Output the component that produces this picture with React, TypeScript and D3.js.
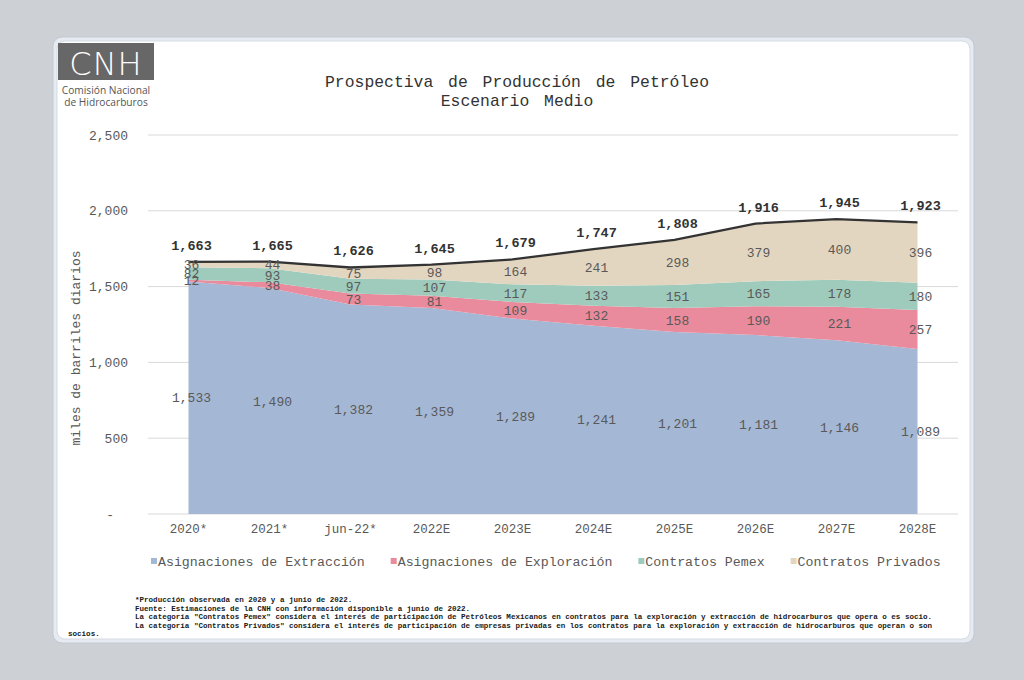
import React from "react";
import * as d3 from "d3";

const categories = ["2020*", "2021*", "jun-22*", "2022E", "2023E", "2024E", "2025E", "2026E", "2027E", "2028E"];
const asignacionesExtraccion = [1533, 1490, 1382, 1359, 1289, 1241, 1201, 1181, 1146, 1089];
const asignacionesExploracion = [12, 38, 73, 81, 109, 132, 158, 190, 221, 257];
const contratosPemex = [82, 93, 97, 107, 117, 133, 151, 165, 178, 180];
const contratosPrivados = [36, 44, 75, 98, 164, 241, 298, 379, 400, 396];
const totals = [1663, 1665, 1626, 1645, 1679, 1747, 1808, 1916, 1945, 1923];
const yTicks = [0, 500, 1000, 1500, 2000, 2500];

const seriesNames = ["Asignaciones de Extracción", "Asignaciones de Exploración", "Contratos Pemex", "Contratos Privados"];
const seriesColors = ["#a4b7d5", "#e98b9c", "#9fcbbd", "#e3d6c1"];

const footnotes = [
  "*Producción observada en 2020 y a junio de 2022.",
  "Fuente: Estimaciones de la CNH con información disponible a junio de 2022.",
  "La categoría \"Contratos Pemex\" considera el interés de participación de Petróleos Mexicanos en contratos para la exploración y extracción de hidrocarburos que opera o es socio.",
  "La categoría \"Contratos Privados\" considera el interés de participación de empresas privadas en los contratos para la exploración y extracción de hidrocarburos que operan o son",
];
const footnoteTail = "socios.";

const MONO = "'Liberation Mono', 'Courier New', monospace";

export default function App() {
  const rows = categories.map((c, i) => ({
    cat: c,
    s0: asignacionesExtraccion[i],
    s1: asignacionesExploracion[i],
    s2: contratosPemex[i],
    s3: contratosPrivados[i],
  }));
  const keys = ["s0", "s1", "s2", "s3"];
  const stacked = d3.stack<any>().keys(keys)(rows);

  const x = d3.scalePoint<string>().domain(categories).range([148, 958]).padding(0.5);
  const y = d3.scaleLinear().domain([0, 2500]).range([514, 135]);

  const area = d3
    .area<any>()
    .x((d) => x(d.data.cat) as number)
    .y0((d) => y(d[0]))
    .y1((d) => y(d[1]));

  const line = d3
    .line<number>()
    .x((_, i) => x(categories[i]) as number)
    .y((d) => y(d));

  const fmt = d3.format(",");

  // legend layout
  const charW = 7.95;
  let lx = 151;
  const legendItems = seriesNames.map((n, i) => {
    const item = { x: lx, name: n, color: seriesColors[i] };
    lx += 7 + n.length * charW + 26;
    return item;
  });

  return (
    <svg
      width={1024}
      height={680}
      style={{ position: "absolute", left: 0, top: 0, display: "block" }}
    >
      <rect x={0} y={0} width={1024} height={680} fill="#cdd0d4" />
      {/* frame */}
      <rect x={53} y={37} width={921} height={606} rx={9} fill="#e6ebf2" stroke="#c3cad4" strokeWidth={1} />
      <rect x={57} y={41} width={913} height={598} rx={8} fill="#ffffff" stroke="#d5dbe3" strokeWidth={1} />

      {/* logo */}
      <rect x={58} y={43} width={96} height={37} fill="#676767" />
      <text x={106} y={75} textAnchor="middle" fill="#ffffff" fontFamily="'DejaVu Sans', 'Open Sans', sans-serif" fontWeight={300} fontSize={32} letterSpacing={1}>
        CNH
      </text>
      <text x={106} y={94} textAnchor="middle" fill="#555" fontFamily="'Open Sans', 'Noto Sans', sans-serif" fontSize={10.2}>
        Comisión Nacional
      </text>
      <text x={106} y={106} textAnchor="middle" fill="#555" fontFamily="'Open Sans', 'Noto Sans', sans-serif" fontSize={10.2}>
        de Hidrocarburos
      </text>

      {/* title */}
      <text x={517} y={87} textAnchor="middle" fill="#333333" fontFamily={MONO} fontSize={16.4} wordSpacing={5}>
        Prospectiva de Producción de Petróleo
      </text>
      <text x={517} y={106} textAnchor="middle" fill="#333333" fontFamily={MONO} fontSize={16.4} wordSpacing={5}>
        Escenario Medio
      </text>

      {/* gridlines */}
      {yTicks.map((t) => (
        <line key={t} x1={148} x2={958} y1={y(t)} y2={y(t)} stroke="#d9d9d9" strokeWidth={1} />
      ))}
      {yTicks.map((t) => (
        <text
          key={"l" + t}
          x={t === 0 ? 114 : 128}
          y={y(t)}
          dy="0.35em"
          textAnchor="end"
          fill="#595959"
          fontFamily={MONO}
          fontSize={13}
        >
          {t === 0 ? "-" : fmt(t)}
        </text>
      ))}

      <text
        transform={`translate(80, 348) rotate(-90)`}
        textAnchor="middle"
        fill="#595959"
        fontFamily={MONO}
        fontSize={13}
      >
        miles de barriles diarios
      </text>

      {/* areas */}
      {stacked.map((s, i) => (
        <path key={i} d={area(s) as string} fill={seriesColors[i]} />
      ))}

      {/* total line */}
      <path d={line(totals) as string} fill="none" stroke="#333333" strokeWidth={2.3} />

      {/* segment labels */}
      {stacked.map((s, i) =>
        s.map((d: any, j: number) => (
          <text
            key={`s${i}-${j}`}
            x={(x(d.data.cat) as number) + 3}
            y={y((d[0] + d[1]) / 2)}
            dy="0.35em"
            textAnchor="middle"
            fill="#595959"
            fontFamily={MONO}
            fontSize={13}
          >
            {fmt(d[1] - d[0])}
          </text>
        ))
      )}

      {/* total labels */}
      {totals.map((t, i) => (
        <text
          key={"t" + i}
          x={(x(categories[i]) as number) + 3}
          y={y(t) - 12}
          textAnchor="middle"
          fill="#333333"
          fontFamily={MONO}
          fontWeight="bold"
          fontSize={13.5}
        >
          {fmt(t)}
        </text>
      ))}

      {/* x labels */}
      {categories.map((c) => (
        <text
          key={"x" + c}
          x={x(c) as number}
          y={533}
          textAnchor="middle"
          fill="#595959"
          fontFamily={MONO}
          fontSize={12.5}
        >
          {c}
        </text>
      ))}

      {/* legend */}
      {legendItems.map((it) => (
        <g key={it.name}>
          <rect x={it.x} y={558} width={6} height={6} fill={it.color} />
          <text x={it.x + 7} y={566} fill="#595959" fontFamily={MONO} fontSize={13.25}>
            {it.name}
          </text>
        </g>
      ))}

      {/* footnotes */}
      {footnotes.map((f, i) => (
        <text
          key={"f" + i}
          x={135}
          y={602 + i * 8.5}
          fill="#1a1a1a"
          fontFamily={MONO}
          fontWeight="bold"
          fontSize={7.55}
          style={{ whiteSpace: "pre" }}
        >
          {f}
        </text>
      ))}
      <text x={68} y={636} fill="#1a1a1a" fontFamily={MONO} fontWeight="bold" fontSize={7.55}>
        {footnoteTail}
      </text>
    </svg>
  );
}
